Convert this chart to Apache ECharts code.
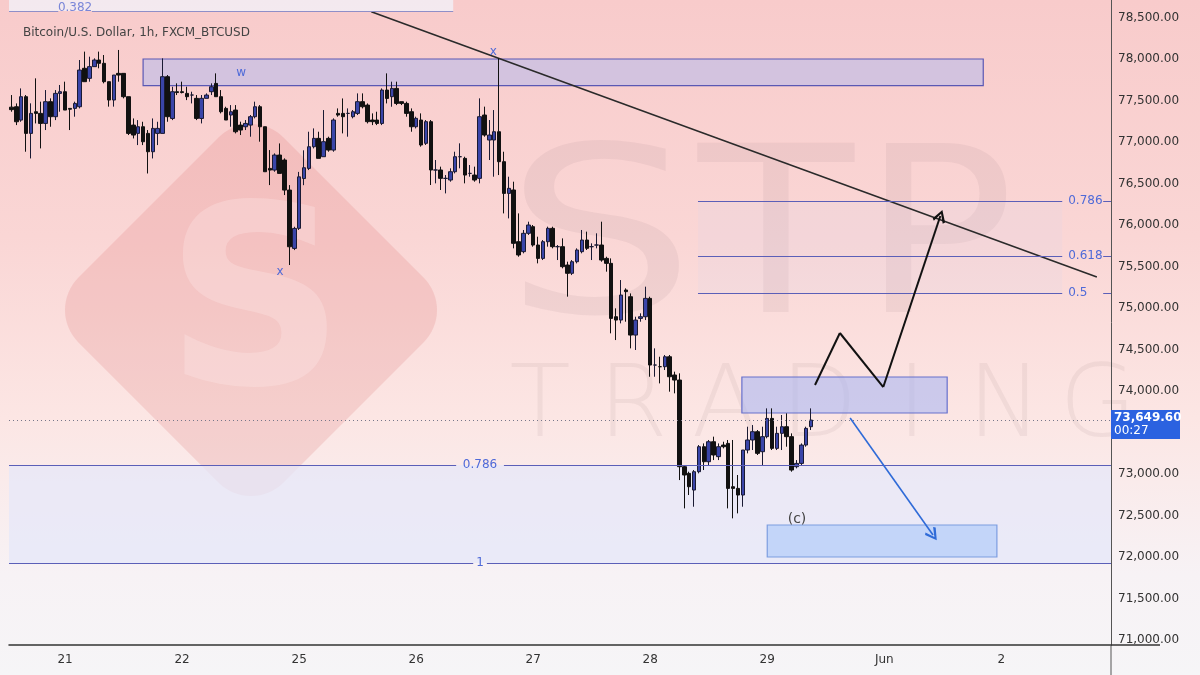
<!DOCTYPE html>
<html>
<head>
<meta charset="utf-8">
<title>BTCUSD 1h</title>
<script src="https://cdn.jsdelivr.net/npm/echarts@6/dist/echarts.min.js"></script>
<style>
  html, body { margin: 0; padding: 0; }
  #main { width: 1200px; height: 675px; }
</style>
</head>
<body>
<div id="main"></div>
<script>
// time axis: one slot per hour, a day label every 24 slots from slot 11
const dayLabels = ['21', '22', '25', '26', '27', '28', '29', 'Jun', '2'];
const firstDay = 11;
const slotCount = 226;
const priceTicks = [71000, 71500, 72000, 72500, 73000, 73500, 74000, 74500,
                    75000, 75500, 76000, 76500, 77000, 77500, 78000, 78500];
const lastPrice = 73649.6;
const countdown = '00:27';

// hourly candles: [open, close, low, high]
const candles = [
  [77420,77390,77365,77566],[77425,77244,77204,77465],[77264,77546,77244,77646],[77546,77104,76883,77566],
  [77104,77345,76802,77466],[77365,77345,77224,77767],[77345,77224,76923,77486],[77224,77486,77144,77626],
  [77486,77305,77184,77526],[77305,77586,77264,77626],[77586,77606,77365,77687],[77606,77385,77385,77727],
  [77405,77395,77144,77405],[77405,77465,77305,77486],[77425,77867,77405,77988],[77888,77727,77727,78089],
  [77767,77908,77727,78028],[77908,77988,77908,78008],[77988,77948,77888,78089],[77948,77727,77707,78048],
  [77727,77506,77426,77727],[77506,77807,77426,77807],[77827,77807,77727,78109],[77827,77546,77526,77827],
  [77546,77104,77084,77546],[77204,77084,77043,77284],[77104,77184,76963,77264],[77184,77003,76963,77244],
  [77104,76883,76621,77144],[76883,77164,76802,77284],[77104,77164,76963,77244],[77104,77787,77104,78008],
  [77787,77305,77244,77807],[77284,77606,77264,77666],[77606,77596,77566,77707],[77606,77596,77586,77727],
  [77586,77546,77505,77666],[77566,77566,77465,77606],[77526,77284,77264,77566],[77284,77526,77224,77566],
  [77526,77566,77526,77586],[77606,77666,77566,77707],[77706,77546,77546,77827],[77546,77365,77345,77626],
  [77405,77265,77265,77425],[77325,77365,77184,77445],[77385,77124,77104,77445],[77204,77144,77084,77245],
  [77184,77224,77144,77265],[77204,77305,77064,77325],[77305,77425,77285,77486],[77425,77184,77004,77445],
  [77184,76642,76642,77184],[76682,76662,76481,76903],[76662,76843,76642,76863],[76843,76622,76622,76983],
  [76783,76421,76361,76803],[76421,75738,75518,76481],[75718,75959,75698,75979],[75960,76580,75940,76640],
  [76560,76690,76480,76900],[76682,76943,76662,77124],[76943,77044,76923,77164],[77044,76803,76803,77124],
  [76823,77004,76823,77385],[77044,76903,76883,77064],[76903,77265,76883,77285],[77345,77325,77305,77405],
  [77345,77305,77104,77525],[77345,77345,77064,77405],[77305,77365,77285,77385],[77345,77486,77325,77586],
  [77486,77425,77405,77586],[77445,77245,77224,77465],[77265,77245,77204,77345],[77265,77224,77204,77365],
  [77224,77626,77204,77646],[77626,77525,77465,77827],[77546,77646,77425,77727],[77646,77465,77445,77727],
  [77486,77465,77445,77486],[77465,77345,77305,77486],[77365,77184,77124,77405],[77184,77285,77164,77305],
  [77265,76964,76944,77345],[76984,77245,76964,77265],[77245,76663,76482,77265],[76663,76663,76502,76783],
  [76663,76562,76422,76703],[76562,76562,76381,76602],[76542,76642,76522,76683],[76642,76823,76622,76883],
  [76823,76823,76683,76984],[76803,76602,76502,76823],[76622,76622,76582,76723],[76602,76542,76522,76703],
  [76562,77305,76502,77526],[77325,77084,77064,77426],[77024,77084,76783,77265],[77024,77124,76582,77385],
  [77124,76763,76602,78010],[76763,76381,76140,76883],[76381,76442,76080,76582],[76422,75779,75719,76522],
  [75799,75639,75618,76140],[75679,75900,75659,75940],[75900,76000,75880,76040],[75980,75759,75739,76000],
  [75759,75598,75538,75859],[75598,75799,75578,75819],[75799,75960,75739,75980],[75960,75739,75719,75980],
  [75739,75739,75578,75759],[75739,75498,75478,75839],[75518,75418,75137,75558],[75418,75558,75397,75578],
  [75558,75699,75538,75719],[75679,75819,75659,75940],[75819,75719,75699,75920],[75739,75739,75578,75779],
  [75759,75759,75719,75900],[75759,75578,75558,76040],[75598,75538,75438,75618],[75538,74875,74695,75598],
  [74895,74855,74614,74996],[74855,75156,74815,75337],[75217,75197,74835,75237],[75136,74674,74514,75176],
  [74674,74855,74494,74895],[74875,74895,74835,74936],[74895,75116,74855,75257],[75116,74313,74172,75136],
  [74313,74313,74172,74514],[74293,74293,74092,74413],[74293,74413,74253,74434],[74413,74172,73992,74434],
  [74193,74132,73972,74233],[74132,73088,72927,74213],[73088,72988,72586,73108],[73008,72847,72747,73028],
  [72807,73028,72606,73048],[73028,73329,73008,73349],[73329,73148,73048,73369],[73148,73389,73108,73410],
  [73389,73229,73168,73450],[73209,73329,73168,73369],[73349,73329,73309,73389],[73369,72827,72586,73410],
  [72847,72827,72466,73410],[72827,72747,72526,72988],[72747,73289,72606,73289],[73289,73410,73249,73570],
  [73410,73510,73289,73590],[73510,73249,73229,73530],[73269,73450,73108,73570],[73450,73670,73430,73791],
  [73670,73309,73289,73791],[73309,73490,73289,73570],[73490,73570,73289,73711],[73570,73450,73329,73731],
  [73450,73048,73028,73490],[73088,73128,73068,73168],[73128,73349,73108,73369],[73349,73550,73329,73570],
  [73570,73650,73530,73791]
];

// drawings, in [slot, price]
const trendLine = [[73.8, 78569], [222.6, 75373]];
const wBox = [[27, 78000], [199.3, 77680]];
const targetBox = [[149.8, 74169], [191.9, 73735]];
const cBox = [[155.0, 72386], [202.1, 72000]];
const fibRightSpan = [140.8, 215.5];
const fibRight = [['0.786', 76289], ['0.618', 75627], ['0.5', 75181]];
const fibLow = [['0.786', 73108, 91.2, 101.0], ['1', 71928, 94.7, 97.5]];
const fibTop = ['0.382', 78578, 90.6, 9.6, 16.5];
const zigzag = [[164.8, 74072], [169.9, 74699], [178.8, 74048], [190.5, 76108]];
const blueArrow = [[172.0, 73675], [189.0, 72265]];
const waveMarks = [['x', 55.1, 75430], ['x', 98.8, 78090], ['w', 47.1, 77830], ['(c)', 161.1, 72458]];

const yMin = 70940, yMax = 78711;
const xLo = -0.5, xHi = slotCount - 0.5;
const fibBlue = '#5b5fb8';
const labelBlue = '#4f6ad8';
const chevron = 'path://M5,0 L10,8 L8.6,9.4 L5,3 L1.4,9.4 L0,8 Z';

function fmt(v) {
  const parts = v.toFixed(2).split('.');
  return parts[0].replace(/\B(?=(\d{3})+(?!\d))/g, ',') + '.' + parts[1];
}

const slots = [];
for (let i = 0; i < slotCount; i++) slots.push(String(i));

function seg(a, b, style, endSymbol, label) {
  return [
    { coord: a, symbol: 'none', lineStyle: style, label: label || { show: false } },
    { coord: b, symbol: endSymbol || 'none', symbolSize: endSymbol ? 13 : 0 }
  ];
}

const lines = [];
fibRight.forEach(f => {
  lines.push(seg([fibRightSpan[0], f[1]], [fibRightSpan[1], f[1]],
    { color: fibBlue, width: 1, type: 'solid' }, null,
    { show: true, position: 'end', formatter: f[0], color: labelBlue, fontSize: 12, distance: 6 }));
  lines.push(seg([223.9, f[1]], [xHi, f[1]], { color: fibBlue, width: 1, type: 'solid' }));
});
fibLow.forEach(f => {
  lines.push(seg([xLo, f[1]], [f[2], f[1]], { color: fibBlue, width: 1.2, type: 'solid' }));
  lines.push(seg([f[3], f[1]], [xHi, f[1]], { color: fibBlue, width: 1.2, type: 'solid' }));
});
lines.push(seg([xLo, fibTop[1]], [fibTop[3], fibTop[1]], { color: '#8f8fc8', width: 1, type: 'solid' }));
lines.push(seg([fibTop[4], fibTop[1]], [fibTop[2], fibTop[1]], { color: '#8f8fc8', width: 1, type: 'solid' }));
lines.push(seg([xLo, lastPrice], [xHi, lastPrice], { color: '#77778a', width: 1, type: [1, 3] }));
for (let k = 0; k < zigzag.length - 1; k++) {
  lines.push(seg(zigzag[k], zigzag[k + 1], { color: '#111', width: 2, type: 'solid' },
    k === zigzag.length - 2 ? chevron : null));
}
lines.push(seg(blueArrow[0], blueArrow[1], { color: '#2f6bd8', width: 1.6, type: 'solid' }, chevron));

const areas = [
  [{ coord: [xLo, fibLow[1][1]], itemStyle: { color: 'rgba(228,232,250,0.72)' } }, { coord: [xHi, fibLow[0][1]] }],
  [{ coord: [fibRightSpan[0], fibRight[2][1]], itemStyle: { color: 'rgba(210,212,242,0.14)' } }, { coord: [fibRightSpan[1], fibRight[0][1]] }],
  [{ coord: [xLo, fibTop[1]], itemStyle: { color: 'rgba(242,238,246,0.85)' } }, { coord: [fibTop[2], yMax] }],
  [{ coord: wBox[0], itemStyle: { color: 'rgba(180,186,236,0.55)', borderColor: '#5a58b4', borderWidth: 1.2 } }, { coord: wBox[1] }],
  [{ coord: targetBox[0], itemStyle: { color: 'rgba(172,184,242,0.6)', borderColor: '#6670cc', borderWidth: 1.2 } }, { coord: targetBox[1] }],
  [{ coord: cBox[0], itemStyle: { color: 'rgba(182,206,250,0.75)', borderColor: '#7c9de0', borderWidth: 1.2 } }, { coord: cBox[1] }]
];

function textPoint(text, x, y, color, size) {
  return {
    coord: [x, y], symbol: 'circle', symbolSize: 1, itemStyle: { color: 'rgba(0,0,0,0)' },
    label: { show: true, position: 'inside', formatter: text, color: color, fontSize: size, fontFamily: 'DejaVu Sans' }
  };
}
const points = waveMarks.map(m => textPoint(m[0], m[1], m[2], m[0] === '(c)' ? '#444' : labelBlue, m[0] === '(c)' ? 14 : 12));
fibLow.forEach(f => points.push(textPoint(f[0], (f[2] + f[3]) / 2, f[1], labelBlue, 12)));
points.push(textPoint(fibTop[0], (fibTop[3] + fibTop[4]) / 2, fibTop[1] + 40, '#7a86d8', 12));

const wm = 'rgba(110,85,90,0.075)';
const wmLight = 'rgba(110,85,90,0.08)';
const graphics = [
  { type: 'rect', z: 0, x: 251, y: 310, rotation: Math.PI / 4,
    shape: { x: -145, y: -145, width: 290, height: 290, r: 46 },
    style: { fill: 'rgba(220,105,105,0.19)' } },
  { type: 'text', z: 0, x: 255, y: 318, style: { text: 'S', font: 'bold 250px "DejaVu Sans"', fill: 'rgba(255,236,236,0.3)', textAlign: 'center', textVerticalAlign: 'middle' } },
  { type: 'text', z: 0, x: 600, y: 252, scaleX: 1.3, style: { text: 'S', font: '232px "DejaVu Sans"', fill: wm, textAlign: 'center', textVerticalAlign: 'middle' } },
  { type: 'text', z: 0, x: 776, y: 252, scaleX: 1.1, style: { text: 'T', font: '232px "DejaVu Sans"', fill: wm, textAlign: 'center', textVerticalAlign: 'middle' } },
  { type: 'text', z: 0, x: 938, y: 252, scaleX: 1.1, style: { text: 'P', font: '232px "DejaVu Sans"', fill: wm, textAlign: 'center', textVerticalAlign: 'middle' } }
];
'TRADING'.split('').forEach((ch, k) => {
  graphics.push({ type: 'text', z: 0, x: 540 + 93 * k, y: 410,
    style: { text: ch, font: '200 100px "DejaVu Sans"', fill: wmLight, textAlign: 'center', textVerticalAlign: 'middle' } });
});
graphics.push({ type: 'line', z: 5, shape: { x1: 1111, y1: 645, x2: 1111, y2: 675 }, style: { stroke: '#555', lineWidth: 1 } });
graphics.push({ type: 'line', z: 5, shape: { x1: 1111, y1: 645, x2: 1160, y2: 645 }, style: { stroke: '#333', lineWidth: 1.5 } });

const chart = echarts.init(document.getElementById('main'));
chart.setOption({
  animation: false,
  backgroundColor: {
    type: 'linear', x: 0, y: 0, x2: 0, y2: 1,
    colorStops: [
      { offset: 0, color: '#f8cbcb' },
      { offset: 0.35, color: '#fad6d5' },
      { offset: 0.62, color: '#fce6e4' },
      { offset: 0.85, color: '#f7f2f5' },
      { offset: 1, color: '#f6f5f7' }
    ]
  },
  textStyle: { fontFamily: 'DejaVu Sans' },
  title: {
    text: 'Bitcoin/U.S. Dollar, 1h, FXCM_BTCUSD', left: 18, top: 22,
    textStyle: { fontSize: 12, fontWeight: 'normal', color: '#444', fontFamily: 'DejaVu Sans' }
  },
  graphic: graphics,
  grid: { left: 9, right: 89, top: 0, bottom: 30 },
  xAxis: [
    {
      type: 'category', data: slots, boundaryGap: true,
      axisLine: { lineStyle: { color: '#333', width: 1.5 } },
      axisTick: { show: false },
      splitLine: { show: false },
      axisLabel: {
        interval: (idx) => idx >= firstDay && (idx - firstDay) % 24 === 0 && (idx - firstDay) / 24 < dayLabels.length,
        formatter: (val, idx) => dayLabels[(idx - firstDay) / 24] || '',
        color: '#333', fontSize: 12, margin: 9
      }
    },
    { type: 'value', min: xLo, max: xHi, show: false }
  ],
  yAxis: {
    type: 'value', position: 'right', min: yMin, max: yMax, scale: true,
    axisLine: { show: true, onZero: false, lineStyle: { color: '#555', width: 1 } },
    axisTick: { show: false },
    splitLine: { show: false },
    axisLabel: { customValues: priceTicks, formatter: fmt, color: '#333', fontSize: 12, margin: 7 }
  },
  series: [
    {
      type: 'line', xAxisIndex: 1, z: 1,
      data: trendLine, symbol: 'none',
      lineStyle: { color: '#2a2a2a', width: 1.6 },
      markArea: { silent: true, data: areas },
      markLine: { silent: true, symbol: 'none', label: { show: false }, data: lines },
      markPoint: { silent: true, data: points }
    },
    {
      type: 'candlestick', z: 3, barWidth: 4,
      data: candles,
      itemStyle: { color: '#3a45a8', color0: '#111111', borderColor: '#1a1a33', borderColor0: '#111111', borderWidth: 1 }
    }
  ]
});

// current price tag on the price scale
const py = chart.convertToPixel({ yAxisIndex: 0 }, lastPrice);
chart.setOption({
  graphic: graphics.concat([
    { type: 'rect', z: 10, shape: { x: 1111, y: py - 10, width: 69, height: 29 }, style: { fill: '#2b62e0' } },
    { type: 'text', z: 11, x: 1114, y: py - 8, style: { text: fmt(lastPrice), font: 'bold 12px "DejaVu Sans"', fill: '#fff' } },
    { type: 'text', z: 11, x: 1114, y: py + 5, style: { text: countdown, font: '12px "DejaVu Sans"', fill: '#fff' } }
  ])
});
</script>
</body>
</html>
